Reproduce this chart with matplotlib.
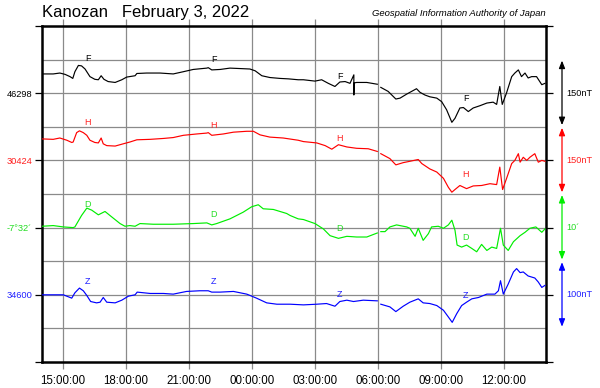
import numpy as np
import pandas as pd
import matplotlib
matplotlib.use('Agg')
import matplotlib.pyplot as plt
import matplotlib.dates as mdates
import matplotlib.transforms as mtransforms

plt.rcParams['font.family'] = ['Liberation Sans', 'DejaVu Sans']

# ---------------- data ----------------
F_times = ["14:00", "14:32", "14:51", "15:06", "15:20", "15:28", "15:34", "15:44", "15:53", "16:03",
           "16:17", "16:31", "16:41", "16:49", "16:57", "17:09", "17:29", "17:48", "18:02", "18:26",
           "18:31", "18:59", "19:37", "20:15", "20:44", "21:12", "21:51", "21:55", "22:05", "22:29",
           "22:57", "23:26", "23:54", "00:09", "00:28", "00:51", "01:20", "01:44", "02:12", "02:27",
           "03:00", "03:19", "03:38", "03:57", "04:11", "04:26", "04:40", "04:51", "04:51", "04:52",
           "04:59", "05:28", "05:58", "06:03", "06:08", "06:29", "06:51", "07:03", "07:22", "07:50",
           "08:00", "08:14", "08:28", "08:48", "09:02", "09:16", "09:31", "09:40", "09:54", "10:04",
           "10:18", "10:32", "10:51", "11:11", "11:29", "11:39", "11:48", "11:55", "12:07", "12:22",
           "12:31", "12:41", "12:50", "13:00", "13:09", "13:19", "13:33", "13:48", "13:57"]
F_values = [46341, 46341, 46343, 46340, 46335, 46331, 46346, 46360, 46359, 46352,
            46335, 46329, 46328, 46337, 46329, 46324, 46322, 46328, 46334, 46337,
            46342, 46343, 46343, 46341, 46346, 46351, 46354, 46355, 46350, 46351,
            46354, 46353, 46352, 46348, 46337, 46333, 46331, 46330, 46328, 46328,
            46325, 46328, 46320, 46313, 46323, 46324, 46320, 46339, 46294, 46321,
            46322, 46322, 46318, np.nan, 46311, 46302, 46285, 46287, 46296, 46308,
            46300, 46294, 46290, 46287, 46279, 46261, 46233, 46242, 46265, 46266,
            46257, 46265, 46270, 46276, 46278, 46273, 46313, 46273, 46298, 46335,
            46343, 46350, 46335, 46343, 46332, 46335, 46335, 46317, 46320]

H_times = ["14:00", "14:32", "14:51", "15:11", "15:25", "15:29", "15:39", "15:47", "15:58", "16:08",
           "16:17", "16:31", "16:41", "16:49", "16:55", "17:05", "17:29", "17:52", "18:11", "18:31",
           "19:09", "19:47", "20:15", "20:44", "21:22", "21:51", "21:55", "22:05", "22:38", "23:07",
           "23:45", "00:04", "00:23", "00:51", "01:29", "02:12", "02:27", "03:05", "03:29", "03:48",
           "04:07", "04:31", "04:59", "05:32", "05:58", "06:03", "06:08", "06:34", "06:51", "07:12",
           "07:31", "07:55", "08:05", "08:28", "08:48", "09:07", "09:21", "09:31", "09:40", "09:54",
           "10:13", "10:32", "10:56", "11:20", "11:39", "11:48", "11:56", "12:07", "12:22", "12:31",
           "12:41", "12:46", "12:55", "13:05", "13:14", "13:28", "13:38", "13:48", "13:57"]
H_values = [30472, 30471, 30474, 30469, 30464, 30465, 30486, 30490, 30486, 30480,
            30469, 30464, 30463, 30474, 30461, 30457, 30456, 30461, 30465, 30470,
            30471, 30473, 30475, 30480, 30483, 30485, 30486, 30480, 30483, 30487,
            30489, 30489, 30481, 30476, 30474, 30469, 30466, 30463, 30457, 30449,
            30459, 30454, 30451, 30450, 30444, np.nan, 30439, 30428, 30414, 30419,
            30422, 30426, 30417, 30405, 30398, 30384, 30364, 30353, 30359, 30368,
            30361, 30367, 30368, 30372, 30370, 30409, 30359, 30383, 30417, 30424,
            30439, 30420, 30431, 30424, 30431, 30439, 30420, 30424, 30422]

# D in minutes of arc (-7 deg 32 min = -452')
D_times = ["14:00", "14:32", "15:01", "15:29", "15:34", "15:53", "16:08", "16:22", "16:41", "17:00",
           "17:19", "17:43", "17:57", "18:11", "18:26", "18:40", "19:18", "20:15", "21:12", "21:51",
           "22:05", "22:19", "22:57", "23:35", "23:59", "00:18", "00:32", "01:01", "01:39", "01:49",
           "02:12", "02:27", "03:00", "03:24", "03:43", "04:07", "04:31", "04:59", "05:28", "05:58",
           "06:03", "06:08", "06:20", "06:34", "06:53", "07:22", "07:31", "07:46", "07:55", "08:09",
           "08:24", "08:33", "08:52", "09:07", "09:21", "09:31", "09:40", "09:46", "09:59", "10:13",
           "10:28", "10:42", "10:56", "11:11", "11:25", "11:39", "11:50", "11:58", "12:12", "12:27",
           "12:46", "13:00", "13:14", "13:31", "13:48", "13:57"]
D_values = [-451.8, -451.7, -451.9, -452.0, -451.9, -450.2, -449.1, -449.4, -450.1, -449.6,
            -450.4, -451.4, -451.8, -451.7, -451.8, -451.4, -451.5, -451.5, -451.4, -451.3,
            -451.6, -451.4, -450.7, -449.7, -448.9, -448.6, -449.2, -449.3, -449.9, -450.2,
            -450.7, -450.8, -451.4, -452.2, -453.2, -453.6, -453.3, -453.4, -453.4, -452.8,
            np.nan, -452.6, -452.6, -451.9, -451.6, -451.9, -452.1, -453.3, -452.1, -453.9,
            -452.9, -451.9, -451.8, -452.1, -451.6, -450.9, -452.4, -454.6, -454.9, -454.6,
            -455.1, -455.6, -454.5, -455.4, -454.9, -455.1, -452.1, -454.6, -455.4, -454.1,
            -453.2, -452.7, -452.1, -451.9, -452.7, -452.2]

Z_times = ["14:00", "14:32", "15:01", "15:25", "15:34", "15:47", "15:58", "16:08", "16:19", "16:36",
           "16:46", "16:55", "17:05", "17:29", "17:48", "18:07", "18:26", "18:32", "19:09", "19:47",
           "20:15", "20:53", "21:31", "21:55", "22:05", "22:29", "23:07", "23:45", "00:13", "00:42",
           "01:11", "01:49", "02:27", "03:05", "03:33", "03:57", "04:11", "04:31", "04:50", "05:18",
           "05:58", "06:03", "06:08", "06:34", "06:51", "07:12", "07:31", "07:55", "08:09", "08:28",
           "08:48", "09:07", "09:21", "09:32", "09:45", "09:59", "10:13", "10:28", "10:47", "11:11",
           "11:34", "11:44", "11:50", "11:58", "12:12", "12:27", "12:36", "12:46", "12:55", "13:09",
           "13:28", "13:38", "13:48", "13:57"]
Z_values = [34600, 34600, 34600, 34595, 34603, 34610, 34606, 34599, 34590, 34588,
            34589, 34596, 34589, 34588, 34592, 34598, 34600, 34604, 34602, 34602,
            34601, 34605, 34606, 34606, 34604, 34604, 34605, 34601, 34595, 34588,
            34586, 34586, 34585, 34586, 34587, 34583, 34590, 34592, 34590, 34592,
            34591, np.nan, 34586, 34582, 34575, 34583, 34589, 34594, 34588, 34587,
            34584, 34577, 34567, 34559, 34572, 34584, 34589, 34594, 34596, 34601,
            34601, 34606, 34621, 34601, 34616, 34634, 34639, 34633, 34634, 34628,
            34625, 34619, 34611, 34614]

base_labels = ["46298", "30424", "-7°32´", "34600"]
scale_labels = ["150nT", "150nT", "10´", "100nT"]
tick_times = ["15:00:00", "18:00:00", "21:00:00", "00:00:00", "03:00:00", "06:00:00", "09:00:00", "12:00:00"]

# ---------------- layout ----------------
series = [
    # times, values, base value, units per grid division, base row, colour, letter
    (F_times, F_values, 46298, 75.0, 8, '#000000', 'F'),
    (H_times, H_values, 30424, 75.0, 6, '#ff0000', 'H'),
    (D_times, D_values, -452.0, 5.0, 4, '#00ee00', 'D'),
    (Z_times, Z_values, 34600, 50.0, 2, '#0000ff', 'Z'),
]
label_colors = ['#000000', '#ff2020', '#22dd22', '#2020ff']
letter_times = ["16:10", "22:10", "04:10", "10:10"]
letter_rows = [[9.02, 8.99, 8.51, 7.85],
               [7.12, 7.03, 6.64, 5.59],
               [4.70, 4.40, 3.98, 3.71],
               [2.41, 2.39, 2.01, 1.99]]


def to_dt(times):
    out = []
    for t in times:
        h, m = map(int, t.split(':')[:2])
        day = 2 if h >= 14 else 3
        out.append(pd.Timestamp(2022, 2, day, h, m))
    return out


W, H = 600, 388
fig = plt.figure(figsize=(6, 3.88), dpi=100)
ax = fig.add_axes([42 / W, 26 / H, 504 / W, 336 / H])

t0 = pd.Timestamp(2022, 2, 2, 14, 0)
t1 = pd.Timestamp(2022, 2, 3, 14, 0)
ax.set_xlim(t0, t1)
ax.set_ylim(0, 10)

grid_c = '#8a8a8a'
for r in range(1, 10):
    ax.axhline(r, color=grid_c, lw=0.9, zorder=0)

ax.xaxis.set_major_locator(mdates.HourLocator(byhour=[0, 3, 6, 9, 12, 15, 18, 21]))
ax.xaxis.set_major_formatter(mdates.DateFormatter('%H:%M:%S'))
ax.grid(True, axis='x', color=grid_c, lw=0.9, zorder=0)
ax.tick_params(axis='x', which='major', top=True, bottom=True, direction='out',
               length=5, width=0.9, color=grid_c, labelsize=8.3, pad=4)

for (times, vals, base, per_div, row, col, letter), lc, lrows in zip(series, label_colors, letter_rows):
    x = to_dt(times)
    y = row + (np.array(vals, dtype=float) - base) / per_div
    ax.plot(x, y, color=col, lw=0.85, zorder=3)
    for lt, ly in zip(letter_times, lrows):
        ax.text(to_dt([lt])[0], ly, letter, color=lc, fontsize=6.5,
                ha='center', va='center', zorder=4)

ax.set_yticks([0, 2, 4, 6, 8, 10])
ax.set_yticklabels(['', base_labels[3], base_labels[2], base_labels[1], base_labels[0], ''])
ax.tick_params(axis='y', left=True, right=True, direction='out', length=5,
               width=0.9, color='black', labelsize=6.7, pad=2)
ylabels = ax.get_yticklabels()
for lab, c in zip(ylabels[1:5], [label_colors[3], label_colors[2], label_colors[1], label_colors[0]]):
    lab.set_color(c)

for s in ax.spines.values():
    s.set_linewidth(1.8)
    s.set_color('black')

# scale arrows on the right
trans = mtransforms.blended_transform_factory(ax.transAxes, ax.transData)
arrow_x = (562 - 42) / 504
text_x = (566 - 42) / 504
for (times, vals, base, per_div, row, col, letter), lc, sl in zip(series, label_colors, scale_labels):
    lo, hi = row - 1 + 0.05, row + 1 - 0.03
    ax.annotate('', xy=(arrow_x, hi), xytext=(arrow_x, lo), xycoords=trans, textcoords=trans,
                arrowprops=dict(arrowstyle='<|-|>,head_length=0.45,head_width=0.18',
                                color=col, lw=0.9, shrinkA=0, shrinkB=0),
                annotation_clip=False)
    ax.text(text_x, row, sl, transform=trans, color=lc, fontsize=6.6,
            ha='left', va='center', clip_on=False)

fig.text(42 / W, 1 - 17 / H, 'Kanozan   February 3, 2022', fontsize=12,
         ha='left', va='baseline')
fig.text(546 / W, 1 - 15.5 / H, 'Geospatial Information Authority of Japan', fontsize=6.8,
         style='italic', ha='right', va='baseline')

fig.savefig('out.png', dpi=100)
